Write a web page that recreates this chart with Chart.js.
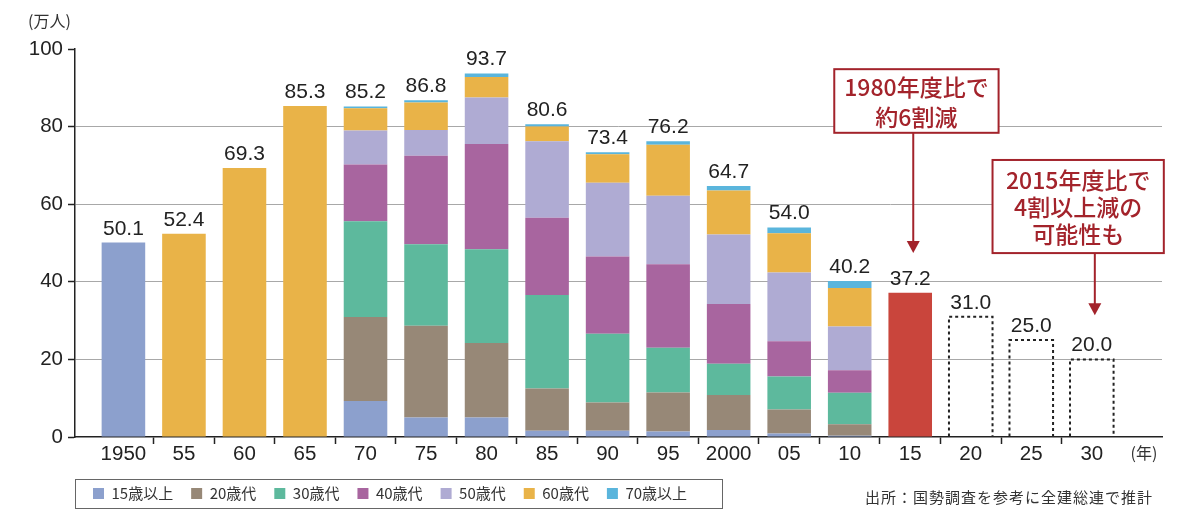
<!DOCTYPE html>
<html><head><meta charset="utf-8">
<script src="https://cdn.jsdelivr.net/npm/chart.js@4.4.1/dist/chart.umd.min.js"></script>
<style>html,body{margin:0;padding:0;background:#fff}</style>
</head><body>
<canvas id="c" width="1182" height="511"></canvas>
<script>
// ---- data ----
const years = ['1950','55','60','65','70','75','80','85','90','95','2000','05','10','15','20','25','30'];
const totals = [50.1,52.4,69.3,85.3,85.2,86.8,93.7,80.6,73.4,76.2,64.7,54.0,40.2,37.2,31.0,25.0,20.0];
const ageLabels = ['15歳以上','20歳代','30歳代','40歳代','50歳代','60歳代','70歳以上'];
const breakdownYears = ['70','75','80','85','90','95','2000','05','10'];
const age15 = [9.3, 5.0, 5.0, 1.6, 1.6, 1.4, 1.8, 0.9, 0.3];
const age20 = [21.6,23.7,19.2,10.9, 7.3,10.1, 9.0, 6.2, 3.0];
const age30 = [24.7,21.0,24.2,24.1,17.7,11.5, 8.1, 8.5, 8.1];
const age40 = [14.6,22.8,27.1,19.9,19.9,21.5,15.4, 9.1, 5.8];
const age50 = [ 8.8, 6.6,12.0,19.7,19.0,17.7,17.9,17.7,11.3];
const age60 = [ 5.7, 7.1, 5.3, 3.8, 7.4,13.1,11.3,10.1, 9.9];
const age70 = [ 0.5, 0.6, 0.9, 0.6, 0.5, 0.9, 1.2, 1.5, 1.8];
const singleYears = ['1950','55','60','65','15'];
const projectedYears = ['20','25','30'];
const notes = [
  { lines: ['1980年度比で','約6割減'] },
  { lines: ['2015年度比で','4割以上減の','可能性も'] }
];
const unitLabel = '(万人)';
const yearUnit = '(年)';
const sourceText = '出所：国勢調査を参考に全建総連で推計';

// ---- styles ----
const ageColors = ['#8ca0cd','#978877','#5db99d','#a8659f','#afabd3','#e9b348','#5ab5dc'];
const singleColors = ['#8ca0cd','#e9b348','#e9b348','#e9b348','#c9453c'];
const noteRed = '#a3232b';
const noteLayout = [
  { x0: 11.745, x1: 14.46, y0: 94.8, y1: 78.4, ax: 13.05, tip: 47.4, lineGap: 30 },
  { x0: 14.36, x1: 17.19, y0: 71.4, y1: 47.4, ax: 16.05, tip: 31.4, lineGap: 27 }
];
const NUM_FONT = '"Liberation Sans", Arial, Helvetica, sans-serif';
const JP_FONT = '"Noto Sans CJK JP", "Noto Sans", sans-serif';

// ---- datasets ----
const ages = [age15, age20, age30, age40, age50, age60, age70];
const datasets = ages.map((arr, k) => ({
  label: ageLabels[k],
  backgroundColor: ageColors[k],
  borderWidth: 0,
  grouped: false,
  data: breakdownYears.map((yr, j) => {
    let start = 0;
    for (let m = 0; m < k; m++) start += ages[m][j];
    return { x: years.indexOf(yr), y: [start, start + arr[j]] };
  })
}));
datasets.push({
  label: 'single',
  backgroundColor: ctx => singleColors[ctx.dataIndex],
  borderWidth: 0,
  grouped: false,
  data: singleYears.map(yr => ({ x: years.indexOf(yr), y: totals[years.indexOf(yr)] }))
});
const projIndex = datasets.length;
datasets.push({
  label: 'projected',
  backgroundColor: 'rgba(0,0,0,0)',
  borderWidth: 0,
  grouped: false,
  data: projectedYears.map(yr => ({ x: years.indexOf(yr), y: totals[years.indexOf(yr)] }))
});

const overlay = {
  id: 'overlay',
  afterDatasetsDraw(chart) {
    const { ctx, scales: { x, y } } = chart;
    ctx.save();
    // dashed projected bars
    const pm = chart.getDatasetMeta(projIndex);
    ctx.strokeStyle = '#222'; ctx.lineWidth = 2; ctx.setLineDash([3, 3]);
    pm.data.forEach(el => {
      const p = el.getProps(['x', 'y', 'base', 'width'], true);
      const l = p.x - p.width / 2, r = p.x + p.width / 2;
      ctx.beginPath();
      ctx.moveTo(l, p.base); ctx.lineTo(l, p.y); ctx.lineTo(r, p.y); ctx.lineTo(r, p.base);
      ctx.stroke();
    });
    ctx.setLineDash([]);
    // totals
    ctx.font = '21px ' + NUM_FONT;
    ctx.fillStyle = '#222'; ctx.textAlign = 'center'; ctx.textBaseline = 'alphabetic';
    years.forEach((yr, i) => {
      ctx.fillText(totals[i].toFixed(1), x.getPixelForValue(i), y.getPixelForValue(totals[i]) - 8);
    });
    // notes
    notes.forEach((n, k) => {
      const L = noteLayout[k];
      const l = x.getPixelForValue(L.x0), r = x.getPixelForValue(L.x1);
      const t = y.getPixelForValue(L.y0), b = y.getPixelForValue(L.y1);
      ctx.fillStyle = '#fff';
      ctx.fillRect(l, t, r - l, b - t);
      ctx.strokeStyle = noteRed; ctx.lineWidth = 2;
      ctx.strokeRect(l, t, r - l, b - t);
      ctx.fillStyle = noteRed;
      ctx.font = '500 23px ' + JP_FONT;
      ctx.textBaseline = 'middle'; ctx.textAlign = 'center';
      const cx = (l + r) / 2, cy = (t + b) / 2;
      n.lines.forEach((s, i) => {
        ctx.fillText(s, cx, cy + (i - (n.lines.length - 1) / 2) * L.lineGap + 1);
      });
      const ax = x.getPixelForValue(L.ax), tip = y.getPixelForValue(L.tip);
      ctx.beginPath(); ctx.moveTo(ax, b); ctx.lineTo(ax, tip - 10); ctx.stroke();
      ctx.beginPath(); ctx.moveTo(ax - 6.5, tip - 12); ctx.lineTo(ax + 6.5, tip - 12); ctx.lineTo(ax, tip); ctx.closePath(); ctx.fill();
    });
    ctx.restore();
  },
  afterDraw(chart) {
    const { ctx, legend } = chart;
    ctx.save();
    ctx.fillStyle = '#333';
    ctx.font = '16px ' + JP_FONT;
    ctx.textBaseline = 'middle';
    ctx.textAlign = 'left';
    ctx.fillText(unitLabel, 28, 21);
    ctx.textAlign = 'center';
    ctx.fillText(yearUnit, 1144, 453);
    ctx.textAlign = 'right';
    ctx.font = '15px ' + JP_FONT;
    ctx.letterSpacing = '1px';
    ctx.fillText(sourceText, 1153, 497);
    ctx.letterSpacing = '0px';
    // legend frame
    const hb = legend.legendHitBoxes;
    if (hb && hb.length) {
      const first = hb[0], last = hb[hb.length - 1];
      const cy = first.top + first.height / 2;
      const left = Math.round(first.left - 18) + 0.5;
      const right = Math.round(last.left + last.width + 35) + 0.5;
      ctx.strokeStyle = '#666'; ctx.lineWidth = 1;
      ctx.strokeRect(left, Math.round(cy - 14.5) + 0.5, right - left, 29);
    }
    ctx.restore();
  }
};

new Chart(document.getElementById('c'), {
  type: 'bar',
  data: { datasets },
  plugins: [overlay],
  options: {
    responsive: false,
    animation: false,
    layout: { padding: { top: 49, left: 0, right: 20, bottom: 0 } },
    plugins: {
      tooltip: { enabled: false },
      legend: {
        position: 'bottom', align: 'start', fullSize: false,
        labels: {
          boxWidth: 11, boxHeight: 11, padding: 18, color: '#333',
          font: { size: 15, family: JP_FONT },
          filter: item => item.datasetIndex < 7
        }
      }
    },
    scales: {
      x: {
        type: 'linear', min: -0.8, max: 17.16, offset: false,
        afterBuildTicks: s => { s.ticks = years.map((_, i) => ({ value: i })); },
        afterFit: s => { s.height = 31; },
        ticks: {
          autoSkip: false, maxRotation: 0, padding: -2, color: '#222',
          font: { size: 20.5, family: NUM_FONT },
          callback: (v, i) => years[i]
        },
        grid: {
          offset: true, drawOnChartArea: false, tickLength: 7, tickWidth: 1.5,
          tickColor: c => (c.type !== 'tick' || c.index === 0) ? 'rgba(0,0,0,0)' : '#222'
        },
        border: { color: '#222', width: 1.5 }
      },
      y: {
        min: 0, max: 100, stacked: false,
        afterFit: s => { s.width = 75; },
        ticks: { stepSize: 20, padding: 5, color: '#222', font: { size: 20.5, family: NUM_FONT } },
        grid: {
          color: c => (c.tick && (c.tick.value === 0 || c.tick.value === 100)) ? 'rgba(0,0,0,0)' : '#a8a8a8',
          lineWidth: 1, tickLength: 7, tickColor: '#222', tickWidth: 1.5
        },
        border: { color: '#222', width: 1.5 }
      }
    }
  }
});
</script>
</body></html>
